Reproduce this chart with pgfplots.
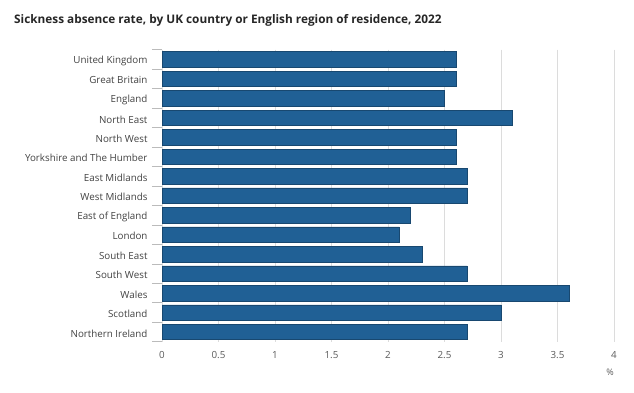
\documentclass[border=0pt]{standalone}
\usepackage{fontspec}
\setmainfont{Open Sans}
\usepackage{pgfplots}
\pgfplotsset{compat=1.18}
\definecolor{onsblue}{RGB}{32,96,149}
\definecolor{txt}{RGB}{65,65,65}
\definecolor{tick}{RGB}{90,90,90}
\definecolor{gridc}{RGB}{220,220,220}
\begin{document}
\begin{tikzpicture}[x=1pt,y=1pt]
\useasboundingbox (0,0) rectangle (634,392);
\node[anchor=base west, font=\fontsize{11.8}{13}\selectfont\bfseries, text=black!85, inner sep=0] at (14,368) {Sickness absence rate, by UK country or English region of residence, 2022};
\begin{axis}[
  at={(162pt,50.3pt)}, anchor=south west,
  scale only axis, width=452pt, height=292pt,
  xbar, bar width=15.5pt,
  xmin=0, xmax=4, ymin=-0.5, ymax=14.5, y dir=reverse,
  enlargelimits=false,
  axis line style={draw=none},
  tick pos=left,
  xtick={0,0.5,...,4},
  xticklabels={0,0.5,1,1.5,2,2.5,3,3.5,4},
  xmajorgrids, grid style={gridc, line width=0.8pt},
  ytick={0,...,14},
  yticklabels={United Kingdom,Great Britain,England,North East,North West,Yorkshire and The Humber,East Midlands,West Midlands,East of England,London,South East,South West,Wales,Scotland,Northern Ireland},
  minor ytick={-0.5,0.5,...,14.5},
  tick align=outside,
  major tick length=0pt, minor tick length=10pt,
  minor y tick style={gridc!85!black, line width=0.6pt},
  major tick style={draw=none},
  x tick style={draw=none},
  yticklabel style={font=\fontsize{9.8}{11}\selectfont, text=txt, xshift=-11pt, yshift=-1.5pt},
  xticklabel style={font=\fontsize{9.8}{11}\selectfont, text=tick, yshift=-6pt},
  /pgf/number format/assume math mode=true,
]
\addplot[fill=onsblue, draw=onsblue!75!black, line width=0.5pt] coordinates {
(2.6,0) (2.6,1) (2.5,2) (3.1,3) (2.6,4) (2.6,5) (2.7,6) (2.7,7) (2.2,8) (2.1,9) (2.3,10) (2.7,11) (3.6,12) (3.0,13) (2.7,14)
};
\end{axis}
\node[font=\fontsize{9}{10}\selectfont, text=tick] at (610,19.3) {\%};
\end{tikzpicture}
\end{document}
